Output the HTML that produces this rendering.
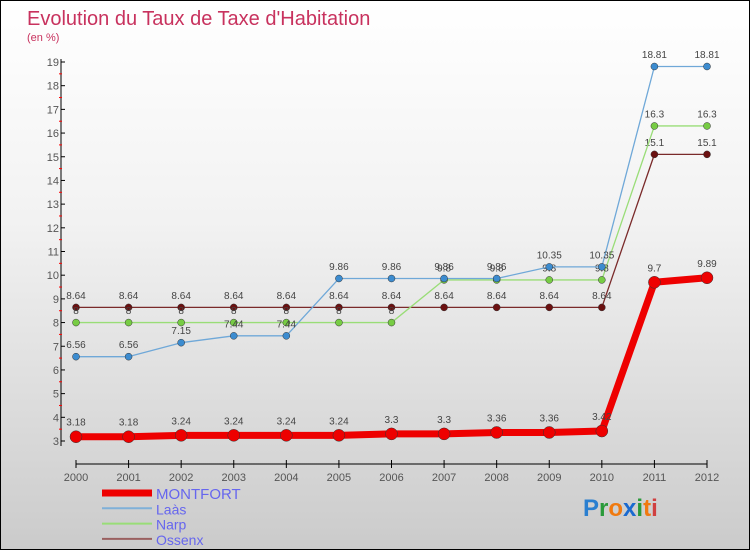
<!DOCTYPE html>
<html><head><meta charset="utf-8"><style>
body{margin:0}
#c{width:750px;height:550px;position:relative;box-sizing:border-box;border:1px solid #000;background:linear-gradient(#fff,#f2f2f2 40%,#cbcbcb);font-family:"Liberation Sans",sans-serif;overflow:hidden}
svg text{font-family:"Liberation Sans",sans-serif}
</style></head><body>
<div id="c">
<svg id="s" width="750" height="550">
<text x="26" y="24" font-size="20" fill="#c8325e">Evolution du Taux de Taxe d'Habitation</text>
<text x="26" y="40" font-size="11" fill="#c8325e">(en %)</text>
</svg>
</div>
<script>
const years=[2000,2001,2002,2003,2004,2005,2006,2007,2008,2009,2010,2011,2012];
const montfort=[3.18,3.18,3.24,3.24,3.24,3.24,3.3,3.3,3.36,3.36,3.42,9.7,9.89];
const laas=[6.56,6.56,7.15,7.44,7.44,9.86,9.86,9.86,9.86,10.35,10.35,18.81,18.81];
const narp=[8,8,8,8,8,8,8,9.8,9.8,9.8,9.8,16.3,16.3];
const ossenx=[8.64,8.64,8.64,8.64,8.64,8.64,8.64,8.64,8.64,8.64,8.64,15.1,15.1];
const yTicks=[3,4,5,6,7,8,9,10,11,12,13,14,15,16,17,18,19];
const names=['MONTFORT','Laàs','Narp','Ossenx'];
const S=document.getElementById('s');const NS='http://www.w3.org/2000/svg';
const X=i=>75+i*(706-75)/12;const Y=v=>440-(v-3)*(440-61)/16;
function mk(t,a,p){const e=document.createElementNS(NS,t);for(const k in a)e.setAttribute(k,a[k]);(p||S).appendChild(e);return e;}
let ax=mk('line',{x1:60,y1:58,x2:60,y2:445,stroke:'#000'});


yTicks.forEach(v=>{mk('line',{x1:60,y1:Y(v),x2:64,y2:Y(v),stroke:'#000'});
if(v<19)mk('line',{x1:58,y1:Y(v+0.5),x2:61,y2:Y(v+0.5),stroke:'#f00'});
const t=mk('text',{x:58,y:Y(v)+4,'font-size':11,fill:'#555','text-anchor':'end'});t.textContent=v;

});
let xa=mk('line',{x1:75,y1:463,x2:706,y2:463,stroke:'#000'});


years.forEach((y,i)=>{mk('line',{x1:X(i),y1:459,x2:X(i),y2:467,stroke:'#000'});
const t=mk('text',{x:X(i),y:480,'font-size':11,fill:'#555','text-anchor':'middle'});t.textContent=y;

});
function series(d,col,dot,w,r,name){
const g=mk('g',{});


mk('polyline',{points:d.map((v,i)=>X(i)+','+Y(v)).join(' '),fill:'none',stroke:col,'stroke-width':w,'stroke-linejoin':'round'},g);
d.forEach((v,i)=>{const c=mk('circle',{cx:X(i),cy:Y(v),r:r,fill:dot,stroke:'#333','stroke-width':0.5},g);


const t=mk('text',{x:X(i),y:Y(v)-(r+5),'font-size':10,fill:'#444','text-anchor':'middle'},g);t.textContent=v;

});}
series(ossenx,'#7a2a2a','#6b1010',1.3,3.5,'series-ossenx');
series(narp,'#99dd77','#77cc44',1.3,3.5,'series-narp');
series(laas,'#6fa8d8','#3c8cd0',1.3,3.5,'series-laas');
series(montfort,'#ee0000','#ee0000',7,6,'series-montfort');
const cols=['#ee0000','#7fb0d8','#99dd77','#9a6060'],ws=[7,2,2,2];
names.forEach((n,i)=>{const y=492+i*15.3;const g=mk('g',{});


mk('line',{x1:101,y1:y,x2:151,y2:y,stroke:cols[i],'stroke-width':ws[i]},g);
const t=mk('text',{x:155,y:y+6,'font-size':i?14:15,fill:'#6666ee'},g);t.textContent=n;});
const lg=mk('text',{x:582,y:515,'font-size':24,'font-weight':'bold'});


[['P','#2a7fd0'],['r','#2a9a3a'],['o','#f07a10'],['x','#1a6ad0'],['i','#2a9a3a'],['t','#f07a10'],['i','#d04040']].forEach(([c,f])=>{const sp=mk('tspan',{fill:f},lg);sp.textContent=c;});
</script>
</body></html>
